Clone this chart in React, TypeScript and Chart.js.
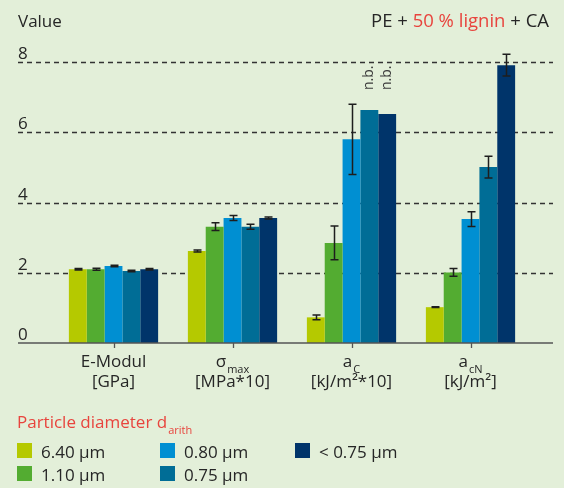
import { useEffect, useRef } from 'react';
import { Chart, registerables } from 'chart.js';

Chart.register(...registerables);

// ---------- data ----------
const catMain = ['E-Modul', 'σ', 'a', 'a'];
const catSub = ['', 'max', 'C', 'cN'];
const catUnit = ['[GPa]', '[MPa*10]', '[kJ/m²*10]', '[kJ/m²]'];

const seriesLabels = ['6.40 µm', '1.10 µm', '0.80 µm', '0.75 µm', '< 0.75 µm'];

const s640 = [2.1, 2.62, 0.73, 1.02];
const s110 = [2.1, 3.31, 2.85, 2.01];
const s080 = [2.19, 3.56, 5.8, 3.53];
const s075 = [2.05, 3.31, 6.63, 5.01];
const sLt075 = [2.1, 3.56, 6.52, 7.91];

const e640 = [0.02, 0.03, 0.07, 0.01];
const e110 = [0.03, 0.11, 0.48, 0.11];
const e080 = [0.02, 0.07, 1.0, 0.21];
const e075 = [0.02, 0.07, null, 0.31];
const eLt075 = [0.02, 0.03, null, 0.31];

const yTicks = [0, 2, 4, 6, 8];

const titleParts = [
  { text: 'PE + ', red: false },
  { text: '50 % lignin', red: true },
  { text: ' + CA', red: false },
];
const yTitle = 'Value';
const legendTitle = 'Particle diameter d';
const legendTitleSub = 'arith';
const notDeterminedText = 'n.b.';

// ---------- styles ----------
const BG = '#e3efd9';
const COLORS = ['#b5c900', '#53ac31', '#008fd2', '#006d96', '#00346a'];
const TEXT = '#262626';
const RED = '#e8443d';
const FONT = '"Open Sans", "Noto Sans", sans-serif';
const LINE_LEFT = 18;
const LINE_RIGHT = 553;

const values = [s640, s110, s080, s075, sLt075];
const errors = [e640, e110, e080, e075, eLt075];

const customPlugin = {
  id: 'customDraw',
  beforeDraw(chart: any) {
    const { ctx } = chart;
    const y = chart.scales.y;
    ctx.save();
    ctx.fillStyle = BG;
    ctx.fillRect(0, 0, chart.width, chart.height);
    // dashed grid lines + y labels
    ctx.strokeStyle = '#333333';
    ctx.lineWidth = 1.4;
    ctx.setLineDash([5, 4]);
    ctx.font = `17px ${FONT}`;
    ctx.fillStyle = TEXT;
    ctx.textAlign = 'left';
    ctx.textBaseline = 'alphabetic';
    y.ticks.forEach((t: any) => {
      const py = Math.round(y.getPixelForValue(t.value)) + 0.5;
      if (t.value !== 0) {
        ctx.beginPath();
        ctx.moveTo(LINE_LEFT, py);
        ctx.lineTo(LINE_RIGHT, py);
        ctx.stroke();
      }
      ctx.fillText(String(t.value), LINE_LEFT, py - 4);
    });
    ctx.restore();
  },
  afterDatasetsDraw(chart: any) {
    const { ctx } = chart;
    const x = chart.scales.x;
    const y = chart.scales.y;
    ctx.save();
    // error bars
    ctx.strokeStyle = '#1e1e1e';
    ctx.lineWidth = 1.5;
    ctx.setLineDash([]);
    chart.data.datasets.forEach((ds: any, i: number) => {
      const meta = chart.getDatasetMeta(i);
      meta.data.forEach((bar: any, j: number) => {
        const err = errors[i][j];
        if (err == null) return;
        const v = values[i][j];
        const yt = y.getPixelForValue(v + err);
        const yb = y.getPixelForValue(v - err);
        const bx = Math.round(bar.x) + 0.5;
        ctx.beginPath();
        ctx.moveTo(bx, yt);
        ctx.lineTo(bx, yb);
        ctx.moveTo(bx - 4, yt);
        ctx.lineTo(bx + 4, yt);
        ctx.moveTo(bx - 4, yb);
        ctx.lineTo(bx + 4, yb);
        ctx.stroke();
      });
    });
    // n.b. labels
    for (let j = 0; j < catMain.length; j++) {
      let topVal = -Infinity;
      const idx: number[] = [];
      errors.forEach((e, i) => {
        if (e[j] == null) {
          idx.push(i);
          topVal = Math.max(topVal, values[i][j]);
        }
      });
      if (!idx.length) continue;
      const startY = y.getPixelForValue(topVal) - 20;
      ctx.font = `14px ${FONT}`;
      ctx.fillStyle = '#3a3a3a';
      idx.forEach((i) => {
        const bar = chart.getDatasetMeta(i).data[j];
        ctx.save();
        ctx.translate(bar.x, startY);
        ctx.rotate(-Math.PI / 2);
        ctx.textAlign = 'left';
        ctx.textBaseline = 'middle';
        ctx.fillText(notDeterminedText, 0, 0);
        ctx.restore();
      });
    }
    // axis line
    const y0 = y.getPixelForValue(0);
    ctx.strokeStyle = '#555';
    ctx.lineWidth = 1.6;
    ctx.beginPath();
    ctx.moveTo(LINE_LEFT, y0);
    ctx.lineTo(LINE_RIGHT, y0);
    ctx.stroke();
    // ticks + x labels
    ctx.lineWidth = 1.3;
    ctx.fillStyle = TEXT;
    ctx.textBaseline = 'alphabetic';
    catMain.forEach((m, j) => {
      const cx = x.getPixelForValue(j);
      const tx = Math.round(cx) + 0.5;
      ctx.beginPath();
      ctx.moveTo(tx, y0);
      ctx.lineTo(tx, y0 + 5);
      ctx.stroke();
      ctx.font = `17px ${FONT}`;
      const wMain = ctx.measureText(m).width;
      ctx.font = `11px ${FONT}`;
      const wSub = catSub[j] ? ctx.measureText(catSub[j]).width + 1 : 0;
      const sx = cx - (wMain + wSub) / 2;
      ctx.textAlign = 'left';
      ctx.font = `17px ${FONT}`;
      ctx.fillText(m, sx, 367);
      if (catSub[j]) {
        ctx.font = `11px ${FONT}`;
        ctx.fillText(catSub[j], sx + wMain + 1, 373);
      }
      ctx.font = `17px ${FONT}`;
      ctx.textAlign = 'center';
      ctx.fillText(catUnit[j], cx, 387);
    });
    ctx.restore();
  },
  afterDraw(chart: any) {
    const { ctx } = chart;
    ctx.save();
    ctx.textBaseline = 'alphabetic';
    ctx.font = `17px ${FONT}`;
    // y title
    ctx.fillStyle = TEXT;
    ctx.textAlign = 'left';
    ctx.fillText(yTitle, LINE_LEFT, 27);
    // chart title right aligned
    ctx.font = `18.5px ${FONT}`;
    let total = 0;
    titleParts.forEach((p) => (total += ctx.measureText(p.text).width));
    let tx = 549 - total;
    titleParts.forEach((p) => {
      ctx.fillStyle = p.red ? RED : TEXT;
      ctx.fillText(p.text, tx, 27);
      tx += ctx.measureText(p.text).width;
    });
    // legend title
    ctx.font = `17px ${FONT}`;
    ctx.fillStyle = RED;
    ctx.fillText(legendTitle, 17, 428);
    const lw = ctx.measureText(legendTitle).width;
    ctx.font = `11px ${FONT}`;
    ctx.fillText(legendTitleSub, 17 + lw + 1, 434);
    // legend items
    const colX = [17, 160, 295];
    const rowY = [458, 481];
    ctx.font = `17px ${FONT}`;
    chart.data.datasets.forEach((ds: any, i: number) => {
      const col = Math.floor(i / 2);
      const row = i % 2;
      const lx = colX[col];
      const ly = rowY[row];
      ctx.fillStyle = ds.backgroundColor;
      ctx.fillRect(lx, ly - 15, 15, 15);
      ctx.fillStyle = TEXT;
      ctx.fillText(ds.label, lx + 24, ly);
    });
    ctx.restore();
  },
};

export default function App() {
  const ref = useRef<HTMLCanvasElement | null>(null);
  useEffect(() => {
    if (!ref.current) return;
    const chart = new Chart(ref.current, {
      type: 'bar',
      data: {
        labels: catMain.map((m, j) => m + catSub[j]),
        datasets: seriesLabels.map((label, i) => ({
          label,
          data: values[i],
          backgroundColor: COLORS[i],
          borderWidth: 0,
          categoryPercentage: 0.75,
          barPercentage: 1.0,
        })),
      },
      options: {
        responsive: false,
        maintainAspectRatio: false,
        animation: false,
        layout: { padding: { left: 54, right: 34, top: 62, bottom: 145 } },
        plugins: { legend: { display: false }, tooltip: { enabled: false }, title: { display: false } },
        scales: {
          x: { display: false },
          y: {
            display: false,
            min: yTicks[0],
            max: yTicks[yTicks.length - 1],
            afterBuildTicks: (axis: any) => {
              axis.ticks = yTicks.map((v) => ({ value: v }));
            },
          },
        },
      },
      plugins: [customPlugin],
    });
    return () => chart.destroy();
  }, []);
  return (
    <div style={{ position: 'fixed', left: 0, top: 0, width: 564, height: 488, background: BG }}>
      <canvas ref={ref} width={564} height={488} style={{ display: 'block' }} />
    </div>
  );
}
